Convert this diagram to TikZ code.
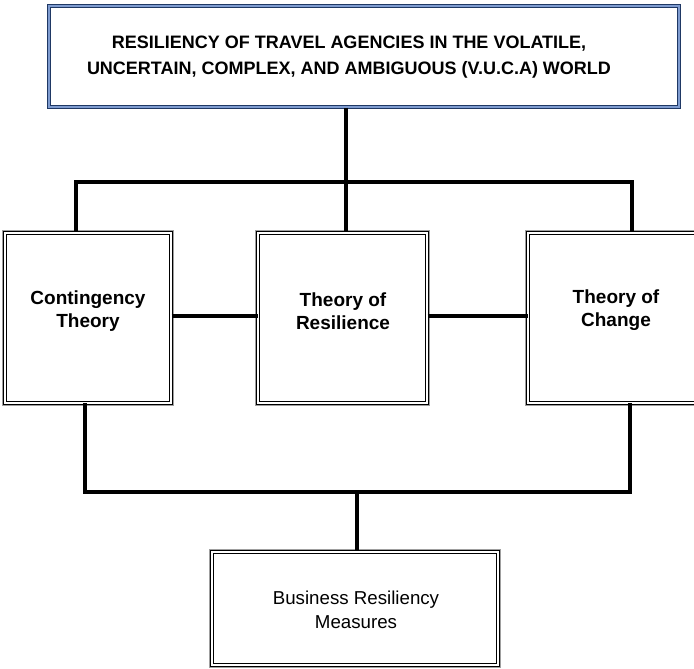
\documentclass[tikz,border=0pt]{standalone}
\usepackage{fontspec}
\setmainfont{Liberation Sans}
\definecolor{navy}{HTML}{1F3864}
\definecolor{lblue}{HTML}{7F9CD0}
\begin{document}
\begin{tikzpicture}[x=1pt,y=1pt,
  titlebox/.style={draw=navy, double=lblue, line width=1.5pt, double distance=1.8pt, fill=white, rectangle, inner sep=0pt},
  theorybox/.style={draw=black, double=white, line width=1pt, double distance=1.3pt, fill=white, rectangle, inner sep=0pt,
     preaction={draw=gray!75, line width=5.5pt}},
  conn/.style={draw=black, line width=3.8pt},
  btext/.style={font=\fontsize{19}{23}\selectfont\bfseries, align=center},
  rtext/.style={font=\fontsize{18.7}{23.5}\selectfont, align=center},
  ttext/.style={font=\fontsize{18}{25.5}\selectfont\bfseries, align=center}]
\useasboundingbox (0,0) rectangle (694,669);
\begin{scope}
\clip (0,0) rectangle (694,669);
% boxes
\node[titlebox, minimum width=630, minimum height=101] (top) at (364,612.5) {};
\node[theorybox, minimum width=166, minimum height=170] (cont) at (88,351) {};
\node[theorybox, minimum width=169, minimum height=170] (res) at (342.5,351) {};
\node[theorybox, minimum width=176, minimum height=170] (chg) at (616,351) {};
\node[theorybox, minimum width=286, minimum height=113] (bus) at (355,60.5) {};
% texts
\node[ttext] (topT) at (349,612) {RESILIENCY OF TRAVEL AGENCIES IN THE VOLATILE,\\UNCERTAIN, COMPLEX, AND AMBIGUOUS (V.U.C.A) WORLD};
\node[btext] (contT) at (88,358) {Contingency\\Theory};
\node[btext] (resT) at (343,358) {Theory of\\Resilience};
\node[btext] (chgT) at (616,359) {Theory of\\Change};
\node[rtext] (busT) at (356,59) {Business Resiliency\\Measures};
% junction coordinates
\coordinate (jT) at (346,487);
\coordinate (jL) at (76,487);
\coordinate (jR) at (632,487);
\coordinate (bL) at (85,177);
\coordinate (bR) at (630,177);
\coordinate (bM) at (357,177);
\coordinate (sy) at (0,353);
\end{scope}
% connectors
\draw[conn] (top.south -| jT) -- (jT);
\draw[conn, line cap=rect] (jL) -- (jR);
\draw[conn] (jL) -- (cont.north -| jL);
\draw[conn] (jT) -- (res.north -| jT);
\draw[conn] (jR) -- (chg.north -| jR);
\draw[conn] (cont.east |- sy) -- (res.west |- sy);
\draw[conn] (res.east |- sy) -- (chg.west |- sy);
\draw[conn] (cont.south -| bL) -- (bL);
\draw[conn] (chg.south -| bR) -- (bR);
\draw[conn, line cap=rect] (bL) -- (bR);
\draw[conn] (bM) -- (bus.north -| bM);
\end{tikzpicture}
\end{document}
